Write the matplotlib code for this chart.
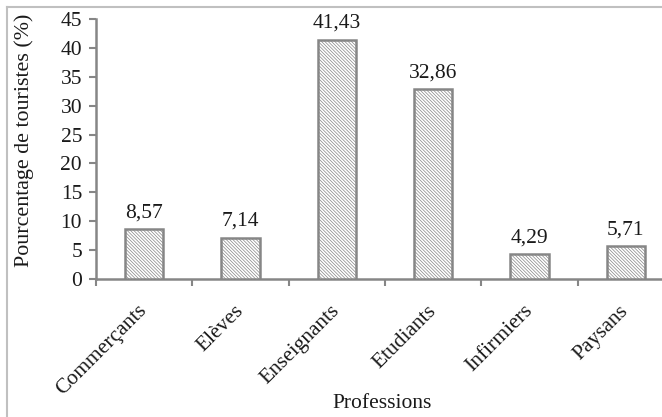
import matplotlib
matplotlib.use("Agg")
import matplotlib.pyplot as plt
from matplotlib.lines import Line2D
import matplotlib.transforms as mtransforms
import numpy as np

professions = ["Commerçants", "Elèves", "Enseignants", "Etudiants", "Infirmiers", "Paysans"]
pourcentages = [8.57, 7.14, 41.43, 32.86, 4.29, 5.71]
y_ticks = [0, 5, 10, 15, 20, 25, 30, 35, 40, 45]

plt.rcParams["font.family"] = ["Liberation Serif", "DejaVu Serif"]
plt.rcParams["hatch.linewidth"] = 0.5

FS = 15.5
TXT = "#1a1a1a"

fig = plt.figure(figsize=(6.62, 4.17), dpi=100)
W, H = 662, 417
ax = fig.add_axes([96 / W, (H - 279) / H, 578 / W, 260 / H])

gray = "#868686"
x = np.arange(len(professions))
bars = ax.bar(x, pourcentages, width=0.4, color="white", edgecolor=gray,
              linewidth=1.8, hatch="\\" * 10, zorder=3)

for xi, v in zip(x, pourcentages):
    ax.annotate(f"{v:.2f}".replace(".", ","), (xi, v), xytext=(0, 5),
                textcoords="offset points", ha="center", va="bottom",
                fontsize=FS, color=TXT)

ax.set_xlim(-0.5, len(professions) - 0.5)
ax.set_ylim(0, 45)
ax.set_yticks(y_ticks)
ax.set_yticklabels([str(t) for t in y_ticks], fontsize=FS, color=TXT)

ax.set_xticks(np.arange(len(professions) + 1) - 0.5)
ax.set_xticklabels([])
ax.set_xticks(x, minor=True)
ax.set_xticklabels(professions, minor=True, rotation=45, ha="right", va="center",
                   rotation_mode="anchor", fontsize=FS, color=TXT)
shift = mtransforms.ScaledTranslation(6 / 72, 0, fig.dpi_scale_trans)
for lab in ax.get_xticklabels(minor=True):
    lab.set_transform(lab.get_transform() + shift)
ax.tick_params(axis="x", which="minor", length=0, pad=21)
ax.tick_params(axis="x", which="major", length=5, width=1.5, color=gray, direction="out")
ax.tick_params(axis="y", length=5, width=1.5, color=gray, direction="out", pad=5)

for side in ("top", "right"):
    ax.spines[side].set_visible(False)
for side in ("left", "bottom"):
    ax.spines[side].set_color(gray)
    ax.spines[side].set_linewidth(1.8)

ax.set_ylabel("Pourcentage de touristes (%)", fontsize=15.8, color=TXT)
ax.set_xlabel("Professions", fontsize=FS, color=TXT)
ax.yaxis.set_label_coords(-72 / 578, 0.535)
ax.xaxis.set_label_coords(0.495, -(403 - 279) / 260)
ax.xaxis.label.set_va("center")
ax.yaxis.label.set_va("center")

# outer chart frame
frame = "#c0c0c0"
fig.add_artist(Line2D([7 / W, 1], [1 - 7 / H, 1 - 7 / H], color=frame, lw=1.5,
                      transform=fig.transFigure))
fig.add_artist(Line2D([7 / W, 7 / W], [0, 1 - 7 / H], color=frame, lw=1.5,
                      transform=fig.transFigure))

fig.savefig("out.png", dpi=100)
